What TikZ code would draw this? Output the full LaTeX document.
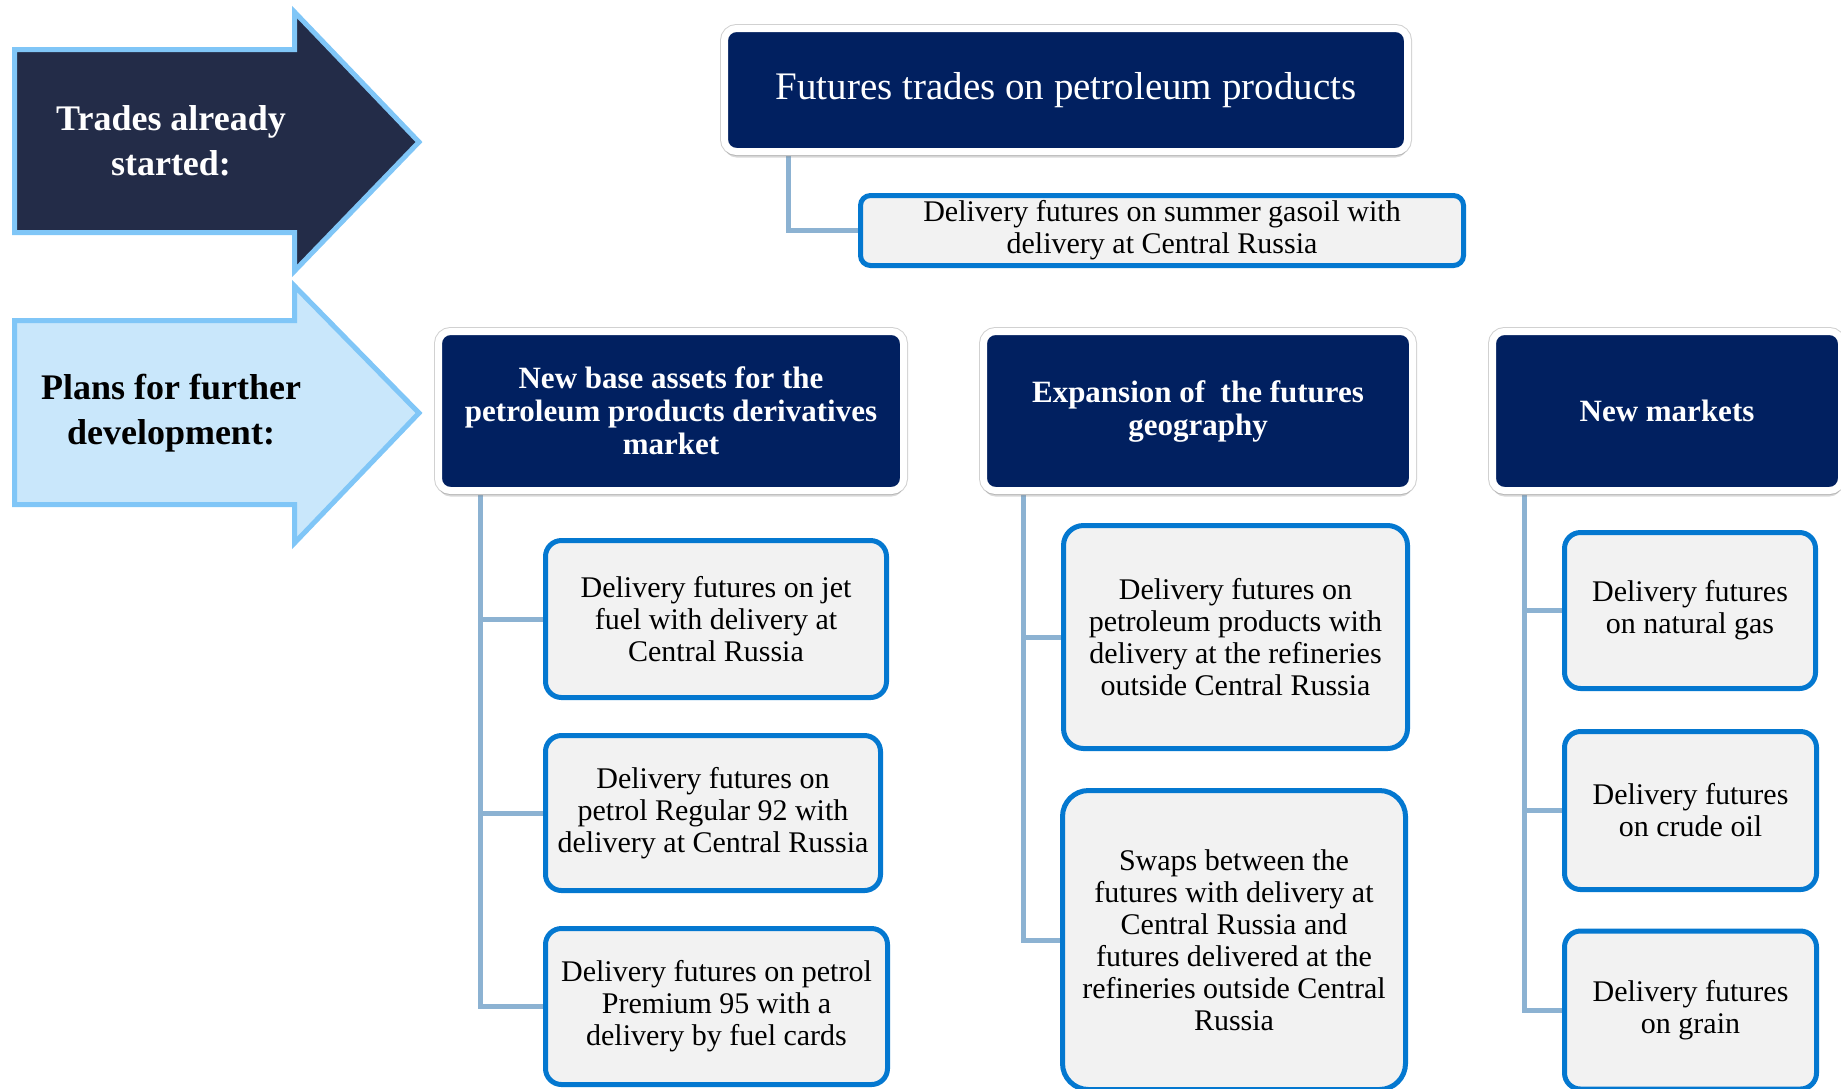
\documentclass[tikz,border=0pt]{standalone}
\usepackage{fontspec}
\setmainfont{Liberation Serif}
\usetikzlibrary{shadows,backgrounds}

\definecolor{headblue}{RGB}{1,32,96}
\definecolor{arrowdark}{RGB}{35,44,72}
\definecolor{arrowlight}{RGB}{201,231,251}
\definecolor{arrowrim}{RGB}{128,198,247}
\definecolor{leafblue}{RGB}{4,120,208}
\definecolor{leafgray}{RGB}{242,242,242}
\definecolor{linkblue}{RGB}{140,178,210}

\tikzset{
	head/.style={fill=headblue, draw=white, line width=7pt, rounded corners=12pt,
		text=white, align=center, inner sep=0pt,
		preaction={draw=black!18, line width=9pt},
		drop shadow={opacity=0.3, shadow xshift=0pt, shadow yshift=-6pt}},
	headtext/.style={font=\bfseries\fontsize{31}{33}\selectfont},
	leaf/.style={fill=leafgray, draw=leafblue, line width=5pt, rounded corners=16pt,
		align=center, inner sep=0pt, font=\fontsize{30}{32}\selectfont},
	link/.style={draw=linkblue, line width=5pt},
	arrowline/.style={draw=arrowrim, line width=5pt},
	arrowtext/.style={align=center, font=\bfseries\fontsize{36}{45}\selectfont},
}

\begin{document}
\begin{tikzpicture}[x=1pt,y=-1pt]
			\useasboundingbox (0,0) rectangle (1841,1088);
			\clip (0,0) rectangle (1841,1088);
			
			% left arrows
			\draw [arrowline, fill=arrowdark] (14.5,49.5) -- (294.5,49.5) -- (294.5,12) -- (419,142)
				-- (294.5,271) -- (294.5,232.5) -- (14.5,232.5) -- cycle;
			\draw [arrowline, fill=arrowlight] (14.5,320.5) -- (294.5,320.5) -- (294.5,286) -- (419,413)
				-- (294.5,543) -- (294.5,504.5) -- (14.5,504.5) -- cycle;
			\node [arrowtext, text=white] (started) at (171,141) {Trades already\\started:};
			\node [arrowtext, text=black] (plans) at (171,413) {Plans for further\\development:};
			
			% trades already started
			\node [head, minimum width=683pt, minimum height=123pt, font=\fontsize{39}{44}\selectfont] (Top) at (1066,90) {Futures trades on petroleum products};
			\node [leaf, minimum width=603pt, minimum height=70pt, rounded corners=10pt] (T1) at (1162,230.5) {Delivery futures on summer gasoil with\\delivery at Central Russia};
			
			% plans: new base assets
			\node [head, headtext, minimum width=465pt, minimum height=159pt] (B) at (671,411) {New base assets for the\\petroleum products derivatives\\market};
			\node [leaf, minimum width=341pt, minimum height=157pt] (B1) at (716,619) {Delivery futures on jet\\fuel with delivery at\\Central Russia};
			\node [leaf, minimum width=335pt, minimum height=155pt] (B2) at (713,813) {Delivery futures on\\petrol Regular 92 with\\delivery at Central Russia};
			\node [leaf, minimum width=342pt, minimum height=156pt] (B3) at (716.5,1006.5) {Delivery futures on petrol\\Premium 95 with a\\delivery by fuel cards};
			
			% plans: geography
			\node [head, headtext, minimum width=429pt, minimum height=159pt] (E) at (1198,411) {Expansion of\ \ the futures\\geography};
			\node [leaf, minimum width=344pt, minimum height=223pt, rounded corners=20pt] (E1) at (1235.5,637) {Delivery futures on\\petroleum products with\\delivery at the refineries\\outside Central Russia};
			\node [leaf, minimum width=343pt, minimum height=299pt, rounded corners=26pt] (E2) at (1234,940) {Swaps between the\\futures with delivery at\\Central Russia and\\futures delivered at the\\refineries outside Central\\Russia};
			
			% plans: new markets
			\node [head, headtext, minimum width=349pt, minimum height=159pt] (N) at (1667,411) {New markets};
			\node [leaf, minimum width=251pt, minimum height=156pt] (N1) at (1690,610.5) {Delivery futures\\on natural gas};
			\node [leaf, minimum width=252pt, minimum height=158pt] (N2) at (1690.5,810.5) {Delivery futures\\on crude oil};
			\node [leaf, minimum width=252pt, minimum height=158pt] (N3) at (1690.5,1010) {Delivery futures\\on grain};
			
			\begin{scope}[on background layer]
				\draw [link] ([xshift=67.5pt]Top.south west) |- (T1.west);
				\draw [link] ([xshift=45.5pt]B.south west) |- (B1.west);
				\draw [link] ([xshift=45.5pt]B.south west) |- (B2.west);
				\draw [link] ([xshift=45.5pt]B.south west) |- (B3.west);
				\draw [link] ([xshift=43.5pt]E.south west) |- (E1.west);
				\draw [link] ([xshift=43.5pt]E.south west) |- (E2.west);
				\draw [link] ([xshift=35.5pt]N.south west) |- (N1.west);
				\draw [link] ([xshift=35.5pt]N.south west) |- (N2.west);
				\draw [link] ([xshift=35.5pt]N.south west) |- (N3.west);
			\end{scope}
		\end{tikzpicture}
\end{document}
